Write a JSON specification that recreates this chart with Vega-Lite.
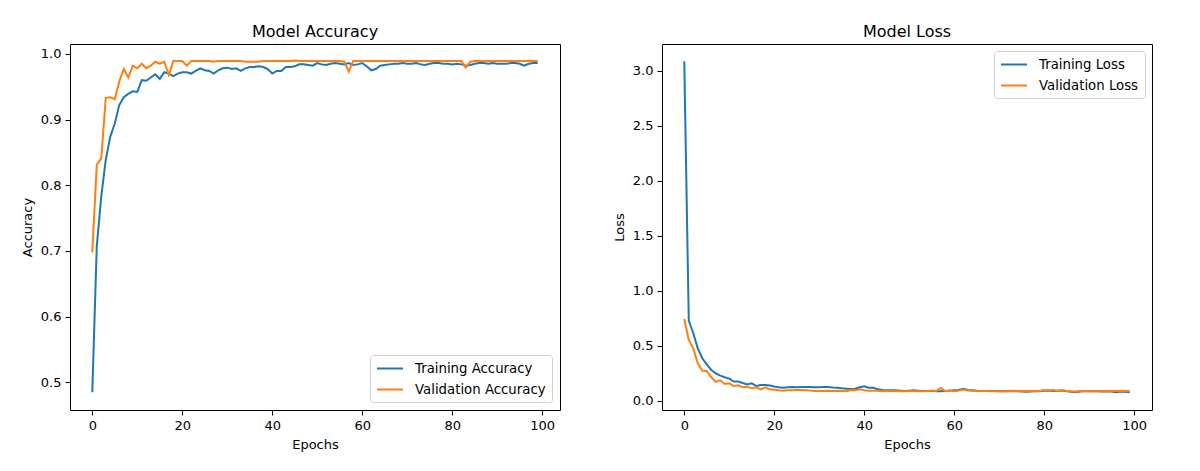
{
"$schema": "https://vega.github.io/schema/vega-lite/v6.json",
"padding": {"left": 20, "top": 23, "right": 48, "bottom": 15},
"autosize": {"type": "pad"},
"config": {
  "font": "DejaVu Sans",
  "view": {"stroke": "#000", "strokeWidth": 1},
  "axis": {"domain": false, "grid": false, "tickColor": "#000", "tickSize": 5, "tickWidth": 1, "labelColor": "#000", "labelFontSize": 13, "labelFont": "DejaVu Sans", "labelPadding": 4, "titleColor": "#000", "titleFontSize": 13, "titleFontWeight": "normal", "titleFont": "DejaVu Sans", "titlePadding": 6},
  "title": {"fontSize": 16, "fontWeight": "normal", "font": "DejaVu Sans", "color": "#000", "offset": 4},
  "legend": {"labelFontSize": 13.3, "labelFont": "DejaVu Sans", "labelColor": "#000", "symbolType": "M-1,0H3", "symbolStrokeWidth": 2, "symbolSize": 169, "fillColor": "#fff", "strokeColor": "#d0d0d0", "cornerRadius": 3, "padding": 6, "rowPadding": 7, "labelOffset": 24, "offset": 7}
},
"datasets": {"h": [
{"epoch":0,"ta":0.485,"va":0.698,"tl":3.085,"vl":0.745},
{"epoch":1,"ta":0.707,"va":0.831,"tl":0.73,"vl":0.554},
{"epoch":2,"ta":0.783,"va":0.841,"tl":0.615,"vl":0.478},
{"epoch":3,"ta":0.839,"va":0.933,"tl":0.478,"vl":0.342},
{"epoch":4,"ta":0.874,"va":0.934,"tl":0.388,"vl":0.275},
{"epoch":5,"ta":0.894,"va":0.931,"tl":0.333,"vl":0.272},
{"epoch":6,"ta":0.922,"va":0.958,"tl":0.282,"vl":0.215},
{"epoch":7,"ta":0.934,"va":0.977,"tl":0.251,"vl":0.173},
{"epoch":8,"ta":0.939,"va":0.964,"tl":0.23,"vl":0.188},
{"epoch":9,"ta":0.943,"va":0.982,"tl":0.215,"vl":0.154},
{"epoch":10,"ta":0.942,"va":0.978,"tl":0.203,"vl":0.16},
{"epoch":11,"ta":0.96,"va":0.985,"tl":0.176,"vl":0.136},
{"epoch":12,"ta":0.959,"va":0.978,"tl":0.176,"vl":0.142},
{"epoch":13,"ta":0.964,"va":0.982,"tl":0.163,"vl":0.124},
{"epoch":14,"ta":0.969,"va":0.988,"tl":0.151,"vl":0.13},
{"epoch":15,"ta":0.962,"va":0.985,"tl":0.16,"vl":0.115},
{"epoch":16,"ta":0.972,"va":0.988,"tl":0.136,"vl":0.124},
{"epoch":17,"ta":0.97,"va":0.968,"tl":0.145,"vl":0.106},
{"epoch":18,"ta":0.966,"va":0.989,"tl":0.145,"vl":0.124},
{"epoch":19,"ta":0.97,"va":0.989,"tl":0.14,"vl":0.106},
{"epoch":20,"ta":0.972,"va":0.989,"tl":0.132,"vl":0.103},
{"epoch":21,"ta":0.972,"va":0.982,"tl":0.125,"vl":0.097},
{"epoch":22,"ta":0.97,"va":0.989,"tl":0.12,"vl":0.094},
{"epoch":23,"ta":0.974,"va":0.989,"tl":0.124,"vl":0.097},
{"epoch":24,"ta":0.978,"va":0.989,"tl":0.127,"vl":0.097},
{"epoch":25,"ta":0.975,"va":0.989,"tl":0.125,"vl":0.1},
{"epoch":26,"ta":0.974,"va":0.989,"tl":0.127,"vl":0.1},
{"epoch":27,"ta":0.97,"va":0.988,"tl":0.127,"vl":0.097},
{"epoch":28,"ta":0.975,"va":0.989,"tl":0.126,"vl":0.094},
{"epoch":29,"ta":0.978,"va":0.989,"tl":0.125,"vl":0.091},
{"epoch":30,"ta":0.979,"va":0.989,"tl":0.125,"vl":0.091},
{"epoch":31,"ta":0.977,"va":0.989,"tl":0.127,"vl":0.091},
{"epoch":32,"ta":0.978,"va":0.989,"tl":0.126,"vl":0.092},
{"epoch":33,"ta":0.974,"va":0.989,"tl":0.122,"vl":0.091},
{"epoch":34,"ta":0.978,"va":0.988,"tl":0.12,"vl":0.092},
{"epoch":35,"ta":0.98,"va":0.988,"tl":0.115,"vl":0.091},
{"epoch":36,"ta":0.98,"va":0.988,"tl":0.112,"vl":0.088},
{"epoch":37,"ta":0.981,"va":0.988,"tl":0.108,"vl":0.1},
{"epoch":38,"ta":0.98,"va":0.989,"tl":0.112,"vl":0.097},
{"epoch":39,"ta":0.977,"va":0.989,"tl":0.125,"vl":0.106},
{"epoch":40,"ta":0.97,"va":0.989,"tl":0.133,"vl":0.097},
{"epoch":41,"ta":0.974,"va":0.989,"tl":0.12,"vl":0.094},
{"epoch":42,"ta":0.974,"va":0.989,"tl":0.12,"vl":0.094},
{"epoch":43,"ta":0.98,"va":0.989,"tl":0.106,"vl":0.092},
{"epoch":44,"ta":0.98,"va":0.989,"tl":0.1,"vl":0.088},
{"epoch":45,"ta":0.981,"va":0.99,"tl":0.097,"vl":0.09},
{"epoch":46,"ta":0.984,"va":0.989,"tl":0.097,"vl":0.092},
{"epoch":47,"ta":0.984,"va":0.989,"tl":0.097,"vl":0.09},
{"epoch":48,"ta":0.983,"va":0.989,"tl":0.094,"vl":0.088},
{"epoch":49,"ta":0.982,"va":0.989,"tl":0.091,"vl":0.088},
{"epoch":50,"ta":0.986,"va":0.989,"tl":0.094,"vl":0.09},
{"epoch":51,"ta":0.984,"va":0.989,"tl":0.097,"vl":0.09},
{"epoch":52,"ta":0.983,"va":0.989,"tl":0.094,"vl":0.088},
{"epoch":53,"ta":0.985,"va":0.989,"tl":0.091,"vl":0.088},
{"epoch":54,"ta":0.986,"va":0.989,"tl":0.091,"vl":0.09},
{"epoch":55,"ta":0.985,"va":0.989,"tl":0.091,"vl":0.095},
{"epoch":56,"ta":0.984,"va":0.988,"tl":0.089,"vl":0.09},
{"epoch":57,"ta":0.986,"va":0.973,"tl":0.088,"vl":0.118},
{"epoch":58,"ta":0.983,"va":0.989,"tl":0.091,"vl":0.088},
{"epoch":59,"ta":0.984,"va":0.989,"tl":0.094,"vl":0.095},
{"epoch":60,"ta":0.986,"va":0.989,"tl":0.097,"vl":0.088},
{"epoch":61,"ta":0.981,"va":0.989,"tl":0.1,"vl":0.094},
{"epoch":62,"ta":0.975,"va":0.989,"tl":0.11,"vl":0.104},
{"epoch":63,"ta":0.977,"va":0.989,"tl":0.1,"vl":0.095},
{"epoch":64,"ta":0.982,"va":0.989,"tl":0.097,"vl":0.094},
{"epoch":65,"ta":0.983,"va":0.989,"tl":0.092,"vl":0.092},
{"epoch":66,"ta":0.984,"va":0.989,"tl":0.091,"vl":0.091},
{"epoch":67,"ta":0.985,"va":0.989,"tl":0.09,"vl":0.09},
{"epoch":68,"ta":0.985,"va":0.989,"tl":0.09,"vl":0.089},
{"epoch":69,"ta":0.986,"va":0.989,"tl":0.09,"vl":0.088},
{"epoch":70,"ta":0.985,"va":0.989,"tl":0.089,"vl":0.088},
{"epoch":71,"ta":0.985,"va":0.989,"tl":0.09,"vl":0.089},
{"epoch":72,"ta":0.986,"va":0.989,"tl":0.088,"vl":0.09},
{"epoch":73,"ta":0.984,"va":0.989,"tl":0.091,"vl":0.093},
{"epoch":74,"ta":0.983,"va":0.989,"tl":0.088,"vl":0.091},
{"epoch":75,"ta":0.985,"va":0.989,"tl":0.085,"vl":0.09},
{"epoch":76,"ta":0.986,"va":0.989,"tl":0.083,"vl":0.091},
{"epoch":77,"ta":0.986,"va":0.989,"tl":0.086,"vl":0.091},
{"epoch":78,"ta":0.985,"va":0.989,"tl":0.088,"vl":0.09},
{"epoch":79,"ta":0.985,"va":0.989,"tl":0.088,"vl":0.091},
{"epoch":80,"ta":0.984,"va":0.989,"tl":0.092,"vl":0.1},
{"epoch":81,"ta":0.985,"va":0.989,"tl":0.096,"vl":0.094},
{"epoch":82,"ta":0.984,"va":0.989,"tl":0.091,"vl":0.1},
{"epoch":83,"ta":0.982,"va":0.979,"tl":0.092,"vl":0.092},
{"epoch":84,"ta":0.983,"va":0.988,"tl":0.095,"vl":0.097},
{"epoch":85,"ta":0.985,"va":0.989,"tl":0.088,"vl":0.09},
{"epoch":86,"ta":0.986,"va":0.989,"tl":0.084,"vl":0.088},
{"epoch":87,"ta":0.986,"va":0.989,"tl":0.082,"vl":0.087},
{"epoch":88,"ta":0.985,"va":0.989,"tl":0.085,"vl":0.09},
{"epoch":89,"ta":0.986,"va":0.989,"tl":0.088,"vl":0.09},
{"epoch":90,"ta":0.985,"va":0.989,"tl":0.088,"vl":0.088},
{"epoch":91,"ta":0.985,"va":0.989,"tl":0.088,"vl":0.088},
{"epoch":92,"ta":0.985,"va":0.989,"tl":0.088,"vl":0.089},
{"epoch":93,"ta":0.986,"va":0.989,"tl":0.087,"vl":0.09},
{"epoch":94,"ta":0.986,"va":0.989,"tl":0.086,"vl":0.089},
{"epoch":95,"ta":0.985,"va":0.989,"tl":0.085,"vl":0.09},
{"epoch":96,"ta":0.982,"va":0.989,"tl":0.08,"vl":0.091},
{"epoch":97,"ta":0.985,"va":0.989,"tl":0.085,"vl":0.091},
{"epoch":98,"ta":0.986,"va":0.989,"tl":0.083,"vl":0.091},
{"epoch":99,"ta":0.986,"va":0.989,"tl":0.08,"vl":0.091}
]},
"spacing": 102,
"bounds": "flush",
"resolve": {"scale": {"color": "independent"}},
"hconcat": [
  {
    "title": "Model Accuracy",
    "width": 490,
    "height": 366,
    "data": {"name": "h"},
    "transform": [{"fold": ["ta", "va"], "as": ["series", "value"]}],
    "mark": {"type": "line", "strokeWidth": 2},
    "encoding": {
      "x": {"field": "epoch", "type": "quantitative", "scale": {"domain": [-4.95, 103.95], "nice": false, "zero": false}, "axis": {"title": "Epochs", "values": [0, 20, 40, 60, 80, 100], "format": "d"}},
      "y": {"field": "value", "type": "quantitative", "scale": {"domain": [0.458, 1.015], "nice": false, "zero": false}, "axis": {"title": "Accuracy", "values": [0.5, 0.6, 0.7, 0.8, 0.9, 1.0], "format": ".1f"}},
      "color": {"field": "series", "type": "nominal", "scale": {"domain": ["ta", "va"], "range": ["#1f77b4", "#ff7f0e"]}, "legend": {"title": null, "orient": "bottom-right", "offset": 8, "labelExpr": "datum.label == 'ta' ? 'Training Accuracy' : 'Validation Accuracy'"}}
    }
  },
  {
    "title": "Model Loss",
    "width": 490,
    "height": 366,
    "data": {"name": "h"},
    "transform": [{"fold": ["tl", "vl"], "as": ["series", "value"]}],
    "mark": {"type": "line", "strokeWidth": 2},
    "encoding": {
      "x": {"field": "epoch", "type": "quantitative", "scale": {"domain": [-4.95, 103.95], "nice": false, "zero": false}, "axis": {"title": "Epochs", "values": [0, 20, 40, 60, 80, 100], "format": "d"}},
      "y": {"field": "value", "type": "quantitative", "scale": {"domain": [-0.082, 3.243], "nice": false, "zero": false}, "axis": {"title": "Loss", "values": [0, 0.5, 1.0, 1.5, 2.0, 2.5, 3.0], "format": ".1f"}},
      "color": {"field": "series", "type": "nominal", "scale": {"domain": ["tl", "vl"], "range": ["#1f77b4", "#ff7f0e"]}, "legend": {"title": null, "orient": "top-right", "labelExpr": "datum.label == 'tl' ? 'Training Loss' : 'Validation Loss'"}}
    }
  }
]
}
